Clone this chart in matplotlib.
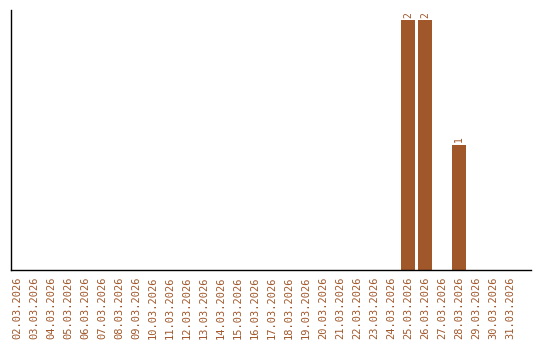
import matplotlib
matplotlib.use("Agg")
import matplotlib.pyplot as plt
import numpy as np

dates = ["%02d.03.2026" % d for d in range(2, 32)]
counts = [0] * 30
counts[dates.index("25.03.2026")] = 2
counts[dates.index("26.03.2026")] = 2
counts[dates.index("28.03.2026")] = 1

brown = "#a0572a"

fig = plt.figure(figsize=(5.4, 3.4), dpi=100)
ax = fig.add_axes([11 / 540, 1 - 270 / 340, 520 / 540, 260 / 340])

x = np.arange(len(dates))
bars = ax.bar(x, counts, width=0.82, color=brown)
for xi, c in zip(x, counts):
    if c > 0:
        ax.text(xi, c + 0.02, str(c), rotation=90, ha="center", va="bottom",
                color=brown, fontsize=7, family="DejaVu Sans Mono")

ax.set_xlim(-6 / 17, 514 / 17)
ax.set_ylim(0, 2.08)
ax.set_xticks(x)
ax.set_xticklabels(dates, rotation=90, color=brown, fontsize=7.5, family="DejaVu Sans Mono")
ax.tick_params(axis="x", length=0, pad=5)
ax.set_yticks([])
for s in ["top", "right"]:
    ax.spines[s].set_visible(False)
for s in ["left", "bottom"]:
    ax.spines[s].set_color("black")
    ax.spines[s].set_linewidth(1)

fig.savefig("out.png", dpi=100)
